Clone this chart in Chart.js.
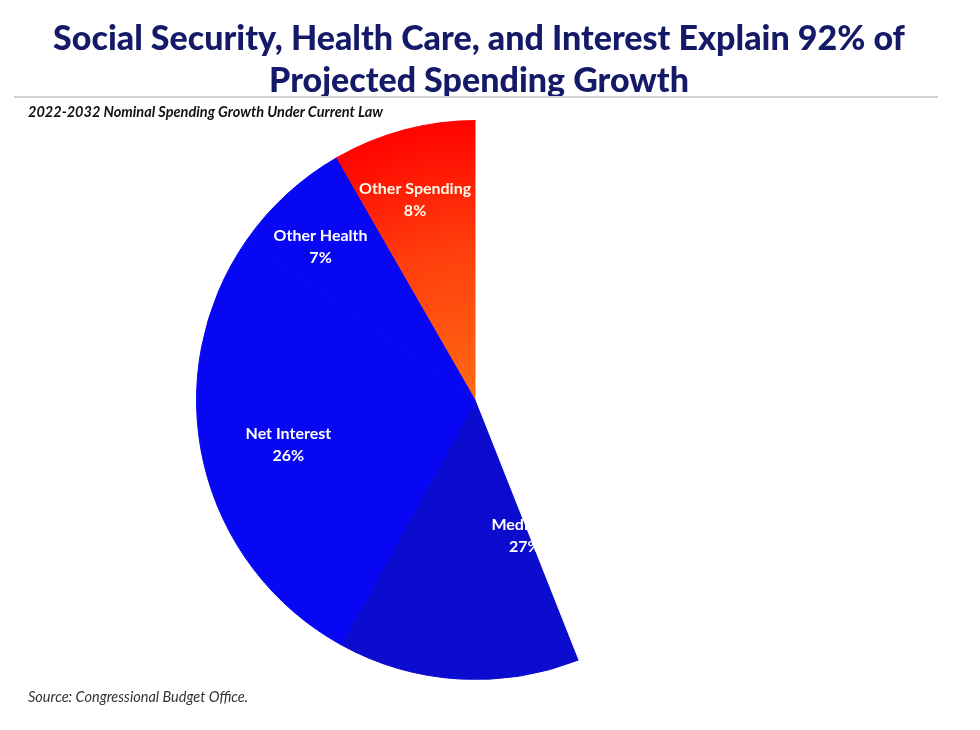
<!DOCTYPE html>
<html>
<head>
<meta charset="utf-8">
<script src="https://cdn.jsdelivr.net/npm/chart.js@4.4.1/dist/chart.umd.min.js"></script>
<style>
  html, body { margin: 0; padding: 0; background: #ffffff; }
  #wrap { position: relative; width: 980px; height: 730px; overflow: hidden; background: #fff; }
  #chart { position: absolute; left: 0; top: 0; }
  .title { position: absolute; left: 0; width: 958px; text-align: center; font-family: Lato, "Open Sans", sans-serif;
           font-weight: 900; color: #151a68; font-size: 34px; line-height: 38px; white-space: nowrap; }
  #rule { position: absolute; left: 14px; top: 96px; width: 924px; height: 2px; background: #d2d2d2; }
  #subtitle { position: absolute; left: 28px; top: 103px; font-family: Lato, sans-serif; font-weight: bold; font-style: italic;
              font-size: 14.5px; color: #111; white-space: nowrap; }
  #source { position: absolute; left: 28px; top: 688px; font-family: Lato, sans-serif; font-style: italic;
            font-size: 14.5px; color: #333; white-space: nowrap; }
</style>
</head>
<body>
<div id="wrap">
  <canvas id="chart" width="980" height="730"></canvas>
  <div class="title" style="top:18px;">Social Security, Health Care, and Interest Explain 92% of</div>
  <div class="title" style="top:60px;">Projected Spending Growth</div>
  <div id="rule"></div>
  <div id="subtitle">2022-2032 Nominal Spending Growth Under Current Law</div>
  <div id="source">Source: Congressional Budget Office.</div>
</div>
<script>
// ---- data ----
// slices clockwise from 12 o'clock; the first one is the blank (white) part of the source image
const sliceLabels   = ['', 'Medicare', 'Net Interest', 'Other Health', 'Other Spending'];
// visible share of the circle taken by each slice (percent of 360 degrees)
const visibleShares = [44.0, 14.0, 26.7, 7.0, 8.3];
// percentages printed on the slices
const labelPercents = [null, 27, 26, 7, 8];

// ---- styling ----
const LABEL_RADIUS = [0, 0.515, 0.69, 0.78, 0.75];
const LABEL_NUDGE_DEG = [0, 0, -1.5, -3, -2.5];
const LABEL_COLORS = [null, '#ffffff', '#ffffff', '#ffffff', '#fffbe8'];
const SOLID_COLORS = ['#ffffff', '#0c0cce', '#0707f4', '#0707f4', null];

function sliceColor(c) {
  const i = c.dataIndex;
  if (SOLID_COLORS[i]) return SOLID_COLORS[i];
  const chart = c.chart;
  const area = chart.chartArea;
  if (!area) return '#ff2a00';
  const cx = (area.left + area.right) / 2, cy = (area.top + area.bottom) / 2;
  const r = Math.min(area.width, area.height) / 2;
  const g = chart.ctx.createRadialGradient(cx, cy, 0, cx, cy, r);
  g.addColorStop(0, '#ff6a14');
  g.addColorStop(0.55, '#ff3e0c');
  g.addColorStop(1, '#ff0300');
  return g;
}

const labelPlugin = {
  id: 'sliceLabels',
  afterDatasetsDraw(chart) {
    const ctx = chart.ctx;
    const meta = chart.getDatasetMeta(0);
    meta.data.forEach((arc, i) => {
      if (labelPercents[i] == null) return;
      const p = arc.getProps(['x', 'y', 'endAngle', 'outerRadius'], true);
      const a = p.endAngle - Math.PI * 2 * (labelPercents[i] / 100) / 2 + LABEL_NUDGE_DEG[i] * Math.PI / 180;
      const rr = p.outerRadius * LABEL_RADIUS[i];
      const lx = p.x + Math.cos(a) * rr, ly = p.y + Math.sin(a) * rr;
      ctx.save();
      ctx.fillStyle = LABEL_COLORS[i];
      ctx.font = 'bold 16px Lato, "Open Sans", sans-serif';
      ctx.textAlign = 'center';
      ctx.textBaseline = 'middle';
      ctx.fillText(sliceLabels[i], lx, ly - 11);
      ctx.fillText(labelPercents[i] + '%', lx, ly + 11);
      ctx.restore();
    });
    // the blank part of the picture covers whatever lies under it
    meta.data[0].draw(ctx);
  }
};

function draw() {
  new Chart(document.getElementById('chart'), {
    type: 'pie',
    data: {
      labels: sliceLabels,
      datasets: [{
        data: visibleShares,
        backgroundColor: sliceColor,
        borderColor: sliceColor,
        borderWidth: 1,
        hoverOffset: 0,
        offset: 0
      }]
    },
    options: {
      responsive: false,
      animation: false,
      rotation: 0,
      layout: { padding: { top: 120, bottom: 50, left: 196, right: 224 } },
      plugins: { legend: { display: false }, tooltip: { enabled: false }, title: { display: false } },
      events: []
    },
    plugins: [labelPlugin]
  });
}
Promise.all([
  document.fonts.load('bold 16px Lato'),
  document.fonts.load('900 34px Lato'),
  document.fonts.load('italic 14px Lato')
]).then(draw, draw);
</script>
</body>
</html>
